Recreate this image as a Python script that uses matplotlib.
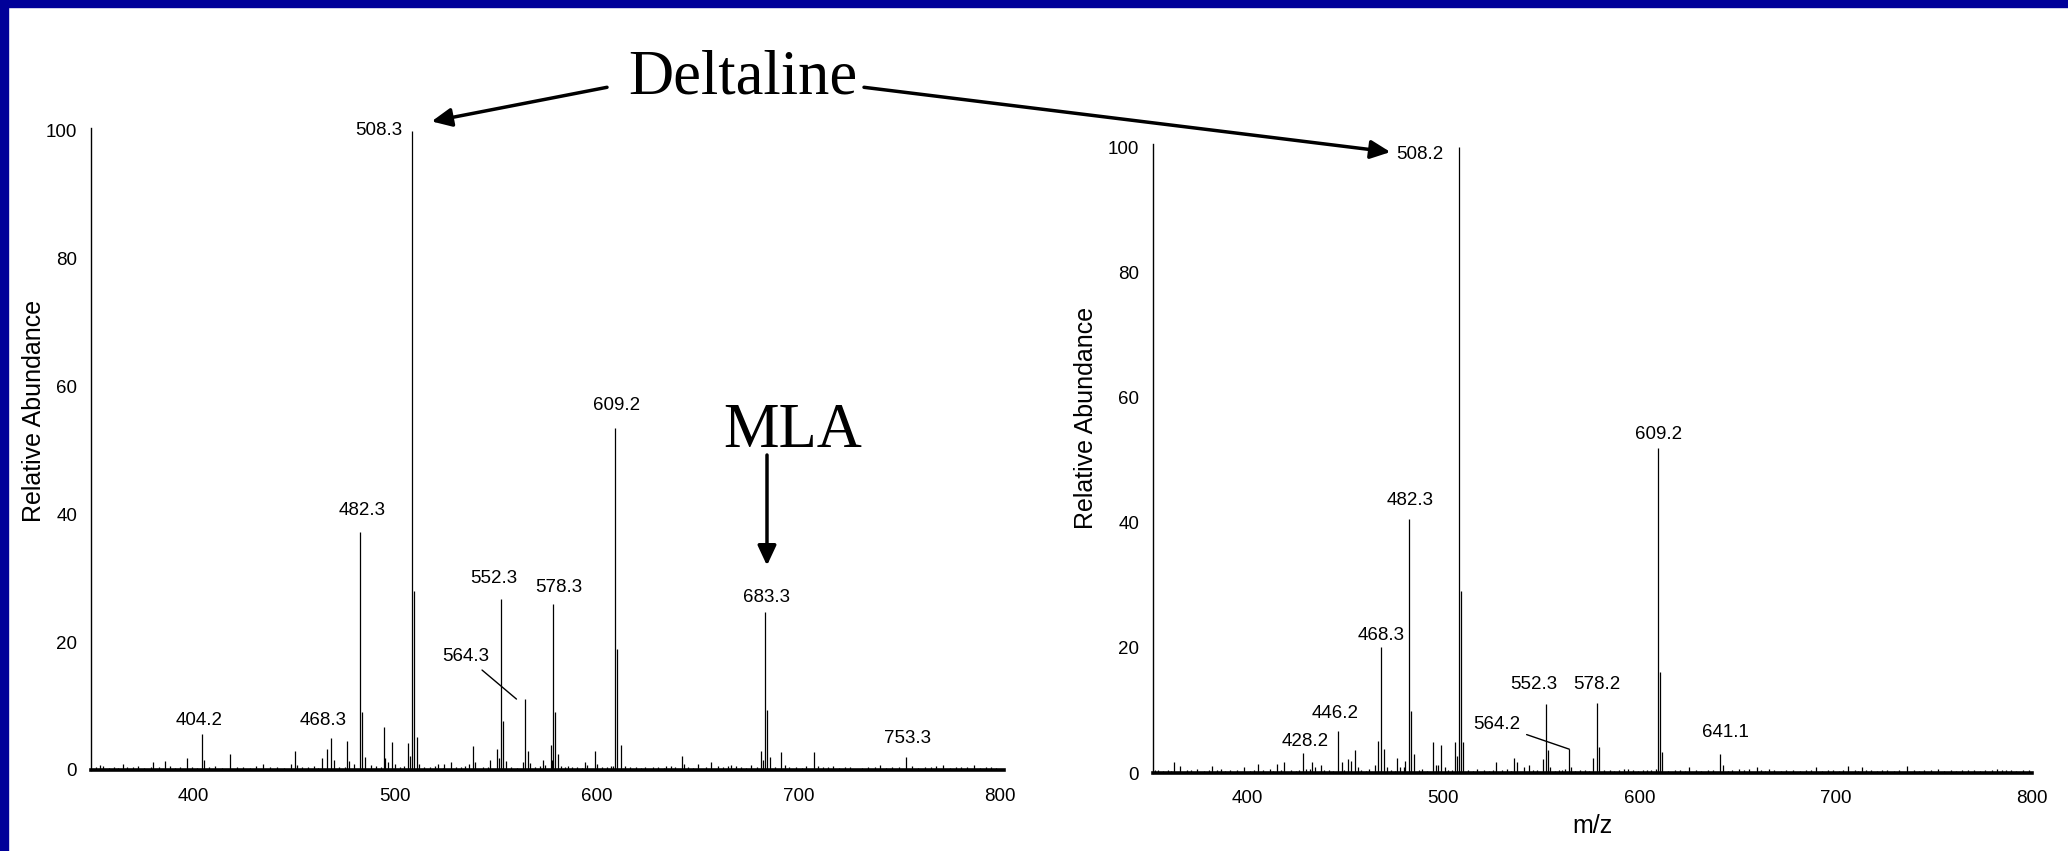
import numpy as np
import matplotlib
matplotlib.use("Agg")
import matplotlib.pyplot as plt
from matplotlib.patches import Rectangle

plt.rcParams['font.family'] = ['Liberation Sans', 'DejaVu Sans']

W, H = 2068, 851

############################ left spectrum (Deltaline + MLA) ############################
left_mz = [404.2, 468.3, 482.3, 483.3, 508.3, 509.3, 552.3, 553.3, 564.3, 578.3,
           579.3, 609.2, 610.2, 611.9, 683.3, 684.3, 753.3]
left_int = [5.6, 5.0, 37.2, 9.1, 100, 28.0, 26.7, 7.7, 11.1, 25.9,
            9.0, 53.5, 18.9, 3.9, 24.7, 9.4, 2.0]

left_minor_mz = [353.3, 364.7, 380.0, 385.8, 396.7, 405.3, 417.8, 434.3, 448.0, 450.0,
                 451.4, 463.7, 466.2, 469.4, 476.0, 477.0, 479.3, 484.8, 487.7, 494.3,
                 495.1, 496.6, 498.3, 499.6, 506.1, 507.4, 510.6, 511.7, 521.0, 524.3,
                 527.6, 536.5, 538.3, 539.5, 546.9, 550.3, 551.6, 554.7, 563.2, 565.6,
                 566.8, 573.1, 574.2, 577.0, 577.6, 580.9, 582.2, 585.5, 594.1, 595.2,
                 598.9, 599.9, 608.1, 614.0, 623.9, 634.1, 636.8, 642.1, 643.2, 650.3,
                 656.6, 660.3, 666.4, 668.9, 676.3, 681.6, 682.6, 685.7, 691.2, 693.3,
                 707.7, 709.8, 717.0, 740.5, 756.4, 771.6, 787.3]
left_minor_int = [0.8, 1.0, 1.2, 1.4, 1.8, 1.5, 2.5, 1.0, 1.0, 3.0,
                  0.8, 1.8, 3.3, 1.5, 4.5, 1.4, 0.9, 2.0, 0.8, 6.7,
                  1.8, 1.3, 4.4, 1.0, 4.3, 2.2, 5.2, 1.0, 1.0, 1.0,
                  1.2, 1.0, 3.75, 1.3, 1.5, 3.3, 1.9, 1.4, 1.2, 3.0,
                  1.1, 1.5, 0.8, 3.9, 1.5, 2.5, 0.6, 0.6, 1.3, 0.8,
                  3.0, 1.0, 0.6, 0.6, 0.4, 0.6, 0.6, 2.2, 1.0, 1.0,
                  1.3, 0.6, 0.8, 0.6, 0.8, 2.9, 1.5, 2.0, 2.8, 0.8,
                  2.8, 0.6, 0.6, 0.8, 0.6, 0.8, 0.8]

left_noise_mz = [351.5, 354.8, 357.9, 360.6, 362.3, 367.1, 369.8, 372.4, 375.3, 378.6,
                 382.7, 388.1, 390.9, 393.4, 399.2, 401.8, 407.6, 410.3, 413.9, 421.2,
                 424.6, 427.8, 431.1, 437.9, 441.2, 444.7, 453.5, 456.8, 459.4, 461.7,
                 472.2, 474.9, 490.3, 492.8, 502.4, 504.1, 514.3, 517.1, 519.6, 523.8,
                 529.9, 532.4, 534.8, 543.3, 545.9, 557.6, 560.3, 569.1, 571.8, 584.2,
                 587.6, 590.1, 592.8, 602.4, 604.8, 606.9, 616.2, 619.3, 621.7, 627.6,
                 630.4, 633.3, 638.9, 645.4, 647.8, 653.9, 662.4, 664.9, 671.6, 673.9,
                 679.2, 688.6, 695.2, 698.7, 701.6, 703.9, 712.1, 714.6, 720.3, 722.9,
                 725.8, 731.4, 734.7, 737.9, 743.6, 746.2, 749.8, 759.5, 762.8, 765.6,
                 768.4, 775.2, 778.1, 780.9, 783.7, 790.2, 792.9, 795.5, 798.2]
left_noise_int = [0.4, 0.6, 0.3, 0.5, 0.3, 0.5, 0.4, 0.6, 0.3, 0.4,
                  0.5, 0.6, 0.3, 0.4, 0.5, 0.3, 0.4, 0.6, 0.3, 0.5,
                  0.4, 0.3, 0.6, 0.5, 0.4, 0.3, 0.5, 0.4, 0.6, 0.3,
                  0.5, 0.4, 0.6, 0.4, 0.5, 0.7, 0.5, 0.4, 0.6, 0.3,
                  0.5, 0.4, 0.6, 0.5, 0.4, 0.5, 0.3, 0.4, 0.6, 0.4,
                  0.5, 0.4, 0.3, 0.5, 0.4, 0.6, 0.4, 0.5, 0.3, 0.4,
                  0.5, 0.3, 0.4, 0.5, 0.3, 0.5, 0.4, 0.6, 0.5, 0.3,
                  0.4, 0.5, 0.4, 0.5, 0.3, 0.6, 0.4, 0.5, 0.3, 0.5,
                  0.4, 0.3, 0.5, 0.4, 0.3, 0.5, 0.4, 0.3, 0.5, 0.4,
                  0.6, 0.3, 0.5, 0.4, 0.5, 0.3, 0.4, 0.5, 0.3]

left_labels = ['404.2', '468.3', '482.3', '552.3', '578.3', '609.2', '683.3', '753.3']

############################ right spectrum (Deltaline) ############################
right_mz = [428.2, 446.2, 468.3, 482.3, 483.3, 508.2, 509.2, 552.3, 553.3, 564.2,
            578.2, 579.2, 609.2, 610.2, 611.2, 641.1]
right_int = [3.2, 6.7, 20.2, 40.5, 9.9, 100, 29.0, 11.0, 3.7, 3.8,
             11.2, 4.1, 51.9, 16.2, 3.4, 3.0]

right_minor_mz = [354.8, 362.7, 365.8, 369.4, 382.0, 386.7, 398.3, 405.4, 415.1, 419.0,
                  430.1, 433.0, 434.8, 437.4, 448.1, 451.3, 452.8, 455.2, 456.4, 464.9,
                  466.5, 469.7, 471.4, 476.4, 478.0, 479.8, 480.6, 485.0, 494.5, 496.3,
                  497.4, 498.8, 500.6, 505.7, 506.9, 510.2, 527.0, 536.0, 537.7, 541.3,
                  543.5, 550.8, 554.4, 562.0, 565.1, 576.4, 594.0, 601.8, 608.4, 625.3,
                  642.3, 650.6, 656.0, 659.7, 665.8, 690.0, 706.0, 713.4, 717.7, 736.2,
                  752.0, 770.2, 786.8]
right_minor_int = [0.5, 1.7, 1.1, 0.5, 1.1, 0.7, 0.9, 1.4, 1.4, 1.7,
                   0.7, 1.7, 0.9, 1.2, 1.7, 2.2, 1.9, 3.7, 0.9, 1.3,
                   5.1, 3.9, 0.9, 2.4, 0.9, 0.9, 1.9, 3.0, 4.9, 1.2,
                   1.2, 4.5, 1.0, 4.9, 2.7, 4.9, 1.8, 2.4, 1.7, 0.9,
                   1.2, 2.3, 0.9, 0.7, 0.9, 2.4, 0.7, 0.5, 0.7, 1.0,
                   1.3, 0.7, 0.7, 0.9, 0.7, 0.9, 1.1, 0.9, 0.5, 1.1,
                   0.7, 0.4, 0.4]

right_noise_mz = [353.2, 356.9, 359.7, 361.1, 371.6, 374.2, 377.9, 380.4, 384.8, 388.9,
                  391.3, 394.7, 401.2, 403.6, 408.1, 411.7, 413.4, 417.2, 422.3, 424.9,
                  426.6, 431.8, 439.2, 441.5, 443.9, 449.6, 458.1, 460.7, 462.2, 473.4,
                  475.1, 487.6, 489.3, 491.7, 502.3, 504.2, 512.8, 514.9, 517.3, 520.6,
                  523.2, 525.4, 530.1, 532.6, 534.7, 545.9, 547.8, 556.7, 558.9, 560.4,
                  567.3, 569.8, 572.1, 574.3, 582.1, 584.7, 587.2, 589.6, 592.3, 596.8,
                  599.1, 603.9, 605.7, 614.6, 617.8, 620.4, 622.9, 628.7, 631.3, 634.8,
                  637.4, 644.9, 647.3, 653.2, 661.8, 663.7, 668.4, 671.9, 674.6, 678.2,
                  681.7, 684.9, 687.3, 693.1, 695.8, 698.6, 701.4, 703.8, 709.7, 711.4,
                  715.6, 720.8, 723.5, 726.2, 729.8, 732.4, 739.7, 742.3, 745.1, 748.6,
                  755.3, 758.8, 761.5, 764.1, 767.4, 773.6, 776.2, 779.8, 782.4, 784.9,
                  789.3, 792.1, 795.6, 798.4]
right_noise_int = [0.4, 0.3, 0.5, 0.3, 0.4, 0.6, 0.3, 0.5, 0.4, 0.3,
                   0.5, 0.4, 0.3, 0.5, 0.4, 0.6, 0.3, 0.4, 0.5, 0.3,
                   0.4, 0.6, 0.4, 0.5, 0.3, 0.5, 0.4, 0.3, 0.6, 0.5,
                   0.3, 0.4, 0.6, 0.3, 0.5, 0.4, 0.5, 0.3, 0.6, 0.4,
                   0.3, 0.5, 0.4, 0.6, 0.3, 0.5, 0.4, 0.3, 0.5, 0.4,
                   0.3, 0.5, 0.4, 0.3, 0.4, 0.5, 0.3, 0.4, 0.6, 0.4,
                   0.3, 0.5, 0.4, 0.3, 0.5, 0.4, 0.3, 0.4, 0.3, 0.5,
                   0.4, 0.3, 0.5, 0.4, 0.5, 0.3, 0.4, 0.3, 0.5, 0.4,
                   0.3, 0.4, 0.5, 0.3, 0.4, 0.5, 0.3, 0.4, 0.5, 0.3,
                   0.4, 0.3, 0.5, 0.4, 0.3, 0.5, 0.4, 0.3, 0.5, 0.4,
                   0.3, 0.4, 0.3, 0.5, 0.4, 0.3, 0.4, 0.5, 0.6, 0.5,
                   0.4, 0.3, 0.5, 0.4]

right_labels = ['428.2', '446.2', '468.3', '482.3', '552.3', '578.2', '609.2', '641.1']

yticks = [0, 20, 40, 60, 80, 100]
xticks = [400, 500, 600, 700, 800]

# label offsets in pixels (dx, dy) from the top of each labelled peak
left_offsets = [(-3, 14), (-8, 18), (2, 22), (-7, 21), (6, 17), (1, 23), (2, 15), (2, 19)]
right_offsets = [(3, 11), (-3, 18), (0, 11), (1.5, 19), (-12, 20), (0, 18), (1, 14), (5, 22)]

fig = plt.figure(figsize=(W / 100, H / 100), dpi=100)
fig.patch.set_facecolor('white')

ax1 = fig.add_axes([91 / W, (851 - 770) / H, 913 / W, (770 - 127.8) / H])
ax2 = fig.add_axes([1153 / W, (851 - 773) / H, 879 / W, (773 - 143.9) / H])


def draw_spectrum(ax, mz, inten, minor_mz, minor_int, noise_mz, noise_int, xlim, xpad):
    ax.vlines(noise_mz, 0, noise_int, color='black', lw=0.9)
    ax.vlines(minor_mz, 0, minor_int, color='black', lw=0.9)
    ax.vlines(mz, 0, inten, color='black', lw=0.9)
    ax.set_xlim(*xlim)
    ax.set_ylim(0, 100.5)
    ax.set_xticks(xticks)
    ax.set_yticks(yticks)
    ax.tick_params(axis='both', length=0, labelsize=13.5)
    ax.tick_params(axis='x', pad=xpad)
    ax.tick_params(axis='y', pad=10)
    for s in ['top', 'right']:
        ax.spines[s].set_visible(False)
    ax.spines['left'].set_linewidth(1.0)
    ax.spines['bottom'].set_linewidth(2.6)
    ax.set_ylabel('Relative Abundance', fontsize=18)


def label_peaks(ax, mz, inten, labels, offsets):
    for lab, (dx, dy) in zip(labels, offsets):
        i = mz.index(float(lab))
        ax.annotate(lab, xy=(mz[i], inten[i]), xytext=(dx, dy), textcoords='offset pixels',
                    ha='center', va='center', fontsize=13.5)


draw_spectrum(ax1, left_mz, left_int, left_minor_mz, left_minor_int,
              left_noise_mz, left_noise_int, (349, 802), 12.8)
draw_spectrum(ax2, right_mz, right_int, right_minor_mz, right_minor_int,
              right_noise_mz, right_noise_int, (352, 800), 12)
ax1.yaxis.set_label_coords(-0.049, 0.559)
ax2.yaxis.set_label_coords(-0.063, 0.564)
ax2.set_xlabel('m/z', fontsize=18, labelpad=5)

label_peaks(ax1, left_mz, left_int, left_labels, left_offsets)
label_peaks(ax2, right_mz, right_int, right_labels, right_offsets)

# base peak labels sit to the left of the peak top
ax1.annotate('508.3', xy=(508.3, 100), xytext=(-10, 0), textcoords='offset pixels',
             ha='right', va='center', fontsize=13.5, annotation_clip=False)
ax2.annotate('508.2', xy=(508.2, 100), xytext=(-16, -7), textcoords='offset pixels',
             ha='right', va='center', fontsize=13.5, annotation_clip=False)

# labels with leader lines
ax1.annotate('564.3', xy=(560.1, 11.1), xytext=(-51, 43), textcoords='offset pixels',
             ha='center', va='center', fontsize=13.5,
             arrowprops=dict(arrowstyle='-', lw=1.0, color='black', shrinkA=3, shrinkB=0))
ax2.annotate('564.2', xy=(564.2, 3.8), xytext=(-73, 25), textcoords='offset pixels',
             ha='center', va='center', fontsize=13.5,
             arrowprops=dict(arrowstyle='-', lw=1.0, color='black', shrinkA=3, shrinkB=0))

############################ big annotations ############################
serif = ['Liberation Serif', 'DejaVu Serif']
fig.text(742.5 / W, 1 - 93.3 / H, 'Deltaline', family=serif, fontsize=45,
         ha='center', va='baseline')
fig.text(792.7 / W, 1 - 446.7 / H, 'MLA', family=serif, fontsize=45,
         ha='center', va='baseline')

arrow_kw = dict(arrowstyle='-|>,head_length=0.75,head_width=0.35', lw=2.5, color='black',
                mutation_scale=16, shrinkA=0, shrinkB=0)
ax1.annotate('', xy=(518, 101.5), xycoords='data',
             xytext=(607 / W, 1 - 87.3 / H), textcoords='figure fraction',
             arrowprops=arrow_kw, annotation_clip=False)
ax2.annotate('', xy=(473, 99.2), xycoords='data',
             xytext=(864 / W, 1 - 87.3 / H), textcoords='figure fraction',
             arrowprops=arrow_kw, annotation_clip=False)
ax1.annotate('', xy=(684.4, 32), xycoords='data',
             xytext=(767 / W, 1 - 455 / H), textcoords='figure fraction',
             arrowprops=arrow_kw, annotation_clip=False)

# slide frame (top and left blue bars)
fig.add_artist(Rectangle((0, 1 - 7 / H), 1, 7 / H, transform=fig.transFigure,
                         color='#000099', zorder=10))
fig.add_artist(Rectangle((0, 0), 8 / W, 1, transform=fig.transFigure,
                         color='#000099', zorder=10))

fig.savefig('out.png', dpi=100)
